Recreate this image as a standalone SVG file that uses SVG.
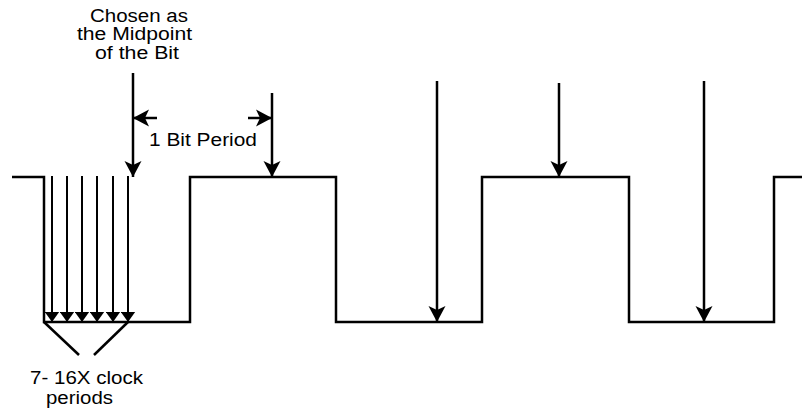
<svg xmlns="http://www.w3.org/2000/svg" width="802" height="412" viewBox="0 0 802 412">
<defs>
<style>
.w{fill:none;stroke:#000;stroke-width:2.5;stroke-linejoin:miter;stroke-linecap:butt}
.a{fill:none;stroke:#000;stroke-width:2.5;marker-end:url(#big)}
.c{fill:none;stroke:#000;stroke-width:2;marker-end:url(#small)}
.t{font-family:"Liberation Sans",Arial,Helvetica,sans-serif;font-size:18px;fill:#000}
</style>
<marker id="big" markerUnits="userSpaceOnUse" orient="auto" markerWidth="17" markerHeight="18" refX="16" refY="9" viewBox="0 0 17 18">
<path d="M0,0.5 L16,9 L0,17.5 L4,9 Z" fill="#000"/>
</marker>
<marker id="small" markerUnits="userSpaceOnUse" orient="auto" markerWidth="11" markerHeight="15" refX="10.5" refY="7.5" viewBox="0 0 11 15">
<path d="M0,0 L10.5,7.5 L0,15 Z" fill="#000"/>
</marker>
</defs>
<rect width="802" height="412" fill="#fff"/>
<g id="waveform">
<path class="w" d="M12,177 H44 V322 H190 V177 H336 V322 H482 V177 H629 V322 H774 V177 H802"/>
</g>
<g id="connectors">
<line class="a" x1="133" y1="73" x2="133" y2="177"/>
<line class="a" x1="272" y1="93" x2="272" y2="177"/>
<line class="a" x1="437" y1="81" x2="437" y2="322"/>
<line class="a" x1="559" y1="83" x2="559" y2="177"/>
<line class="a" x1="704" y1="81" x2="704" y2="322"/>
<line class="a" x1="157" y1="118" x2="133" y2="118"/>
<line class="a" x1="248" y1="118" x2="272" y2="118"/>
<line class="c" x1="52" y1="176" x2="52" y2="322"/>
<line class="c" x1="67" y1="176" x2="67" y2="322"/>
<line class="c" x1="82" y1="176" x2="82" y2="322"/>
<line class="c" x1="97" y1="176" x2="97" y2="322"/>
<line class="c" x1="113" y1="176" x2="113" y2="322"/>
<line class="c" x1="128" y1="176" x2="128" y2="322"/>
<line class="w" x1="44" y1="322" x2="79" y2="355"/>
<line class="w" x1="128" y1="322" x2="94" y2="355"/>
</g>
<g id="label-midpoint">
<text class="t" x="90" y="22" textLength="98" lengthAdjust="spacingAndGlyphs">Chosen as</text>
<text class="t" x="77" y="40" textLength="115" lengthAdjust="spacingAndGlyphs">the Midpoint</text>
<text class="t" x="95" y="59" textLength="84" lengthAdjust="spacingAndGlyphs">of the Bit</text>
</g>
<g id="label-period">
<text class="t" x="149" y="146" textLength="108" lengthAdjust="spacingAndGlyphs">1 Bit Period</text>
</g>
<g id="label-clock">
<text class="t" x="30" y="384" textLength="113" lengthAdjust="spacingAndGlyphs">7- 16X clock</text>
<text class="t" x="46" y="404" textLength="67" lengthAdjust="spacingAndGlyphs">periods</text>
</g>
</svg>
